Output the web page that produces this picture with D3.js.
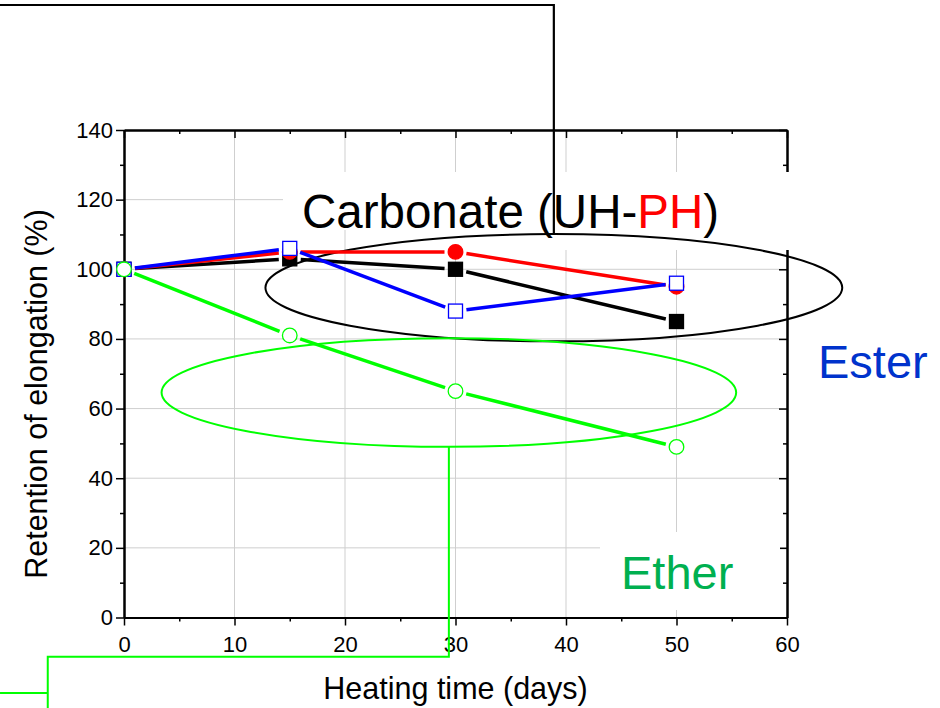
<!DOCTYPE html>
<html>
<head>
<meta charset="utf-8">
<script src="https://d3js.org/d3.v7.min.js"></script>
<style>
body{
  margin: 0;
  background-color: white;
}
text{
  font-family: "Liberation Sans", Arial, sans-serif;
}
.axis path, .axis line{
  stroke: black;
}
.axis text{
  font-size: 22px;
  fill: black;
}
</style>
</head>
<body>
<div id="chart"></div>
<script type="text/javascript">
// heating time (days) and retention of elongation (%)
var days = [0, 15, 30, 50];
var carbonateUH = [100, 103, 100, 85];
var carbonatePH = [100, 105, 105, 95];
var ester = [100, 106, 88, 96];
var ether = [100, 81, 65, 49];

var xTicks = [0, 10, 20, 30, 40, 50, 60];
var xMinor = [5, 15, 25, 35, 45, 55];
var yTicks = [0, 20, 40, 60, 80, 100, 120, 140];
var yMinor = [10, 30, 50, 70, 90, 110, 130];

var seriesNames = ["UH", "PH", "Ester", "Ether"];
var seriesValues = [carbonateUH, carbonatePH, ester, ether];

// look of each series
var styles = {
  UH:    {color: "#000000", shape: "square", fill: "#000000"},
  PH:    {color: "#ff0000", shape: "circle", fill: "#ff0000"},
  Ester: {color: "#0000ff", shape: "square", fill: "#ffffff"},
  Ether: {color: "#00ff00", shape: "circle", fill: "#ffffff"}
};

var props = {
  width: 940,
  height: 708,
  left: 124,
  right: 787,
  top: 130,
  bottom: 617.5
};

var x = d3.scaleLinear().domain([0, 60]).range([props.left, props.right]);
var y = d3.scaleLinear().domain([0, 140]).range([props.bottom, props.top]);

var svg = d3.select("#chart").append("svg")
  .attr("width", props.width)
  .attr("height", props.height);

// grid
svg.append("g").selectAll("line").data(xTicks.slice(1, -1)).enter().append("line")
  .attr("x1", d => x(d)).attr("x2", d => x(d))
  .attr("y1", y(0)).attr("y2", y(140))
  .attr("stroke", "#cfcfcf").attr("stroke-width", 1);
svg.append("g").selectAll("line").data(yTicks.slice(1, -1)).enter().append("line")
  .attr("x1", x(0)).attr("x2", x(60))
  .attr("y1", d => y(d)).attr("y2", d => y(d))
  .attr("stroke", "#cfcfcf").attr("stroke-width", 1);

// axes
function styleAxis(g){
  g.attr("class", "axis");
  g.select(".domain").attr("stroke-width", 2);
  g.selectAll(".tick line").attr("stroke-width", 1.5);
}
svg.append("g").attr("transform", "translate(0," + y(0) + ")")
  .call(d3.axisBottom(x).tickValues(xTicks).tickSize(8).tickSizeOuter(0).tickPadding(11))
  .call(styleAxis);
svg.append("g").attr("transform", "translate(0," + y(0) + ")")
  .call(d3.axisBottom(x).tickValues(xMinor).tickSize(4).tickSizeOuter(0).tickFormat(""))
  .call(styleAxis);
svg.append("g").attr("transform", "translate(" + x(0) + ",0)")
  .call(d3.axisLeft(y).tickValues(yTicks).tickSize(8).tickSizeOuter(0).tickPadding(3))
  .call(styleAxis);
svg.append("g").attr("transform", "translate(" + x(0) + ",0)")
  .call(d3.axisLeft(y).tickValues(yMinor).tickSize(4).tickSizeOuter(0).tickFormat(""))
  .call(styleAxis);
svg.append("g").attr("transform", "translate(0," + y(140) + ")")
  .call(d3.axisTop(x).tickValues(xTicks).tickSize(-8).tickSizeOuter(0).tickFormat(""))
  .call(styleAxis);
svg.append("g").attr("transform", "translate(0," + y(140) + ")")
  .call(d3.axisTop(x).tickValues(xMinor).tickSize(-4).tickSizeOuter(0).tickFormat(""))
  .call(styleAxis);
svg.append("g").attr("transform", "translate(" + x(60) + ",0)")
  .call(d3.axisRight(y).tickValues(yTicks).tickSize(-8).tickSizeOuter(0).tickFormat(""))
  .call(styleAxis);
svg.append("g").attr("transform", "translate(" + x(60) + ",0)")
  .call(d3.axisRight(y).tickValues(yMinor).tickSize(-4).tickSizeOuter(0).tickFormat(""))
  .call(styleAxis);

// white backgrounds of the text frames
svg.append("rect").attr("x", 283).attr("y", 172).attr("width", 517).attr("height", 58).attr("fill", "white");
svg.append("rect").attr("x", 400).attr("y", 172).attr("width", 400).attr("height", 78).attr("fill", "white");
svg.append("rect").attr("x", 600).attr("y", 532).attr("width", 180).attr("height", 78).attr("fill", "white");

// ovals and leader lines (data units)
var carbonateOval = {cx: 38.9, cy: 94.7, rx: 26.1, ry: 15.4};
var etherOval = {cx: 29.4, cy: 64.6, rx: 26.0, ry: 15.6};
var carbonateLead = [[-11.22, 175.9], [38.9, 175.9], [38.9, 110.1]];
var etherLeadA = [[-11.22, -21.7], [-6.9, -21.7]];
var etherLeadB = [[-6.9, -26], [-6.9, -11.3], [29.4, -11.3], [29.4, 49]];

var lead = d3.line().x(d => x(d[0])).y(d => y(d[1]));

function oval(o, color){
  svg.append("ellipse")
    .attr("cx", x(o.cx)).attr("cy", y(o.cy))
    .attr("rx", x(o.rx) - x(0)).attr("ry", y(0) - y(o.ry))
    .attr("fill", "none").attr("stroke", color).attr("stroke-width", 2);
}
oval(carbonateOval, "#000000");
oval(etherOval, "#00ff00");

svg.append("path").attr("d", lead(carbonateLead)).attr("fill", "none")
  .attr("stroke", "#000").attr("stroke-width", 2.2);
svg.append("path").attr("d", lead(etherLeadA)).attr("fill", "none")
  .attr("stroke", "#00ff00").attr("stroke-width", 2);
svg.append("path").attr("d", lead(etherLeadB)).attr("fill", "none")
  .attr("stroke", "#00ff00").attr("stroke-width", 2);

// series: lines with gaps at the symbols, then symbols
var gap = 11;
seriesNames.forEach(function(name, k){
  var st = styles[name];
  var vals = seriesValues[k];
  var g = svg.append("g");
  for (var i = 0; i < days.length - 1; i++){
    var x0 = x(days[i]), y0 = y(vals[i]);
    var x1 = x(days[i + 1]), y1 = y(vals[i + 1]);
    var len = Math.sqrt((x1 - x0) * (x1 - x0) + (y1 - y0) * (y1 - y0));
    var ux = (x1 - x0) / len, uy = (y1 - y0) / len;
    g.append("line")
      .attr("x1", x0 + ux * gap).attr("y1", y0 + uy * gap)
      .attr("x2", x1 - ux * gap).attr("y2", y1 - uy * gap)
      .attr("stroke", st.color).attr("stroke-width", 3.5);
  }
  days.forEach(function(d, i){
    if (st.shape == "square"){
      g.append("rect")
        .attr("x", x(d) - 7).attr("y", y(vals[i]) - 7)
        .attr("width", 14).attr("height", 14)
        .attr("fill", st.fill).attr("stroke", st.color).attr("stroke-width", 1.3);
    } else {
      g.append("circle")
        .attr("cx", x(d)).attr("cy", y(vals[i])).attr("r", 7.3)
        .attr("fill", st.fill).attr("stroke", st.color).attr("stroke-width", 1.3);
    }
  });
});

// axis titles
svg.append("text")
  .attr("x", (props.left + props.right) / 2).attr("y", 699)
  .attr("text-anchor", "middle").style("font-size", "30.5px")
  .text("Heating time (days)");
svg.append("text")
  .attr("transform", "translate(47,394) rotate(-90)")
  .attr("text-anchor", "middle").style("font-size", "30.5px")
  .text("Retention of elongation (%)");

// labels
var carb = svg.append("text").attr("x", 302).attr("y", 228).style("font-size", "47.5px");
carb.append("tspan").text("Carbonate (UH-");
carb.append("tspan").attr("fill", "#ff0000").text("PH");
carb.append("tspan").text(")");

svg.append("text").attr("x", 818).attr("y", 378).style("font-size", "47px")
  .attr("fill", "#0033cc").text("Ester");
svg.append("text").attr("x", 621).attr("y", 589).style("font-size", "47px")
  .attr("fill", "#00b050").text("Ether");
</script>
</body>
</html>
